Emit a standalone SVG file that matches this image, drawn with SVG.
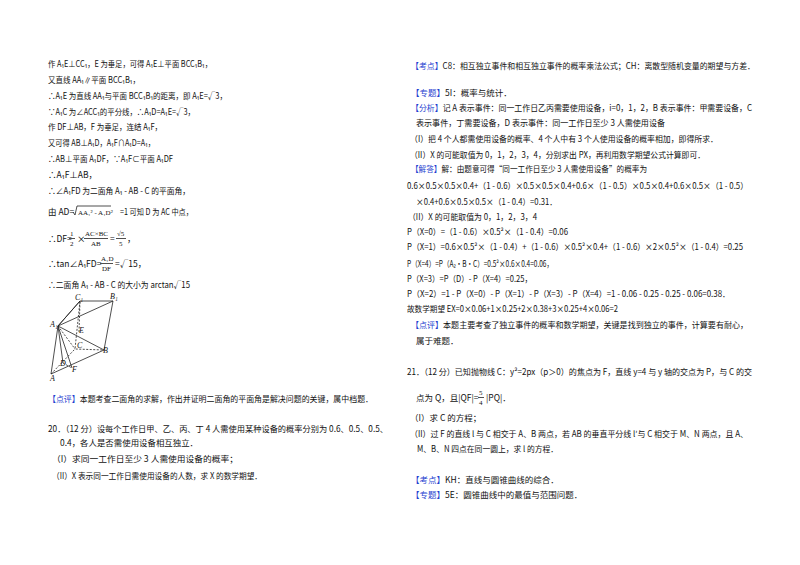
<svg xmlns="http://www.w3.org/2000/svg" width="800" height="565" viewBox="0 0 800 565">
<style>
text{font-family:"Noto Sans CJK SC","Noto Sans",sans-serif;font-size:8.5px;fill:#111}
.b{fill:#1f3fd0}
.fig{fill:none;stroke:#222;stroke-width:0.8}
.d{stroke-dasharray:2 1.5}
.fl{font-family:"Liberation Serif",serif;font-style:italic;font-size:8px}
.m{font-family:"Liberation Serif",serif;font-size:7px}
</style>
<rect width="800" height="565" fill="#fff"/>
<g id="left">
<text x="48" y="67" textLength="164" lengthAdjust="spacingAndGlyphs">作 A₁E⊥CC₁，E 为垂足，可得 A₁E⊥平面 BCC₁B₁，</text>
<text x="48" y="83" textLength="92" lengthAdjust="spacingAndGlyphs">又直线 AA₁∥平面 BCC₁B₁，</text>
<text x="48" y="99" textLength="179" lengthAdjust="spacingAndGlyphs">∴A₁E 为直线 AA₁与平面 BCC₁B₁的距离，即 A₁E=√3，</text>
<text x="48" y="115" textLength="147" lengthAdjust="spacingAndGlyphs">∵A₁C 为∠ACC₁的平分线，∴A₁D=A₁E=√3，</text>
<text x="48" y="130" textLength="114" lengthAdjust="spacingAndGlyphs">作 DF⊥AB，F 为垂足，连结 A₁F，</text>
<text x="48" y="146" textLength="107" lengthAdjust="spacingAndGlyphs">又可得 AB⊥A₁D，A₁F∩A₁D=A₁，</text>
<text x="48" y="162" textLength="125" lengthAdjust="spacingAndGlyphs">∴AB⊥平面 A₁DF，∵A₁F⊂平面 A₁DF</text>
<text x="48" y="178">∴A₁F⊥AB，</text>
<text x="48" y="194" textLength="142" lengthAdjust="spacingAndGlyphs">∴∠A₁FD 为二面角 A₁ - AB - C 的平面角，</text>
<text x="48" y="215">由 AD=</text>
<path d="M73 212 l2 3 l2 -9 h34" class="fig"/>
<text x="78" y="215" class="m">AA₁² - A₁D²</text>
<text x="120" y="215" textLength="73" lengthAdjust="spacingAndGlyphs">=1 可知 D 为 AC 中点，</text>
<text x="48" y="242">∴DF=</text>
<text x="70" y="236" class="m">1</text><line x1="69" y1="238.5" x2="75" y2="238.5" class="fig"/><text x="70" y="246" class="m">2</text>
<text x="77" y="242">×</text>
<text x="85" y="236" class="m">AC×BC</text><line x1="84" y1="238.5" x2="108" y2="238.5" class="fig"/><text x="91" y="246" class="m">AB</text>
<text x="110" y="242">=</text>
<text x="117" y="236" class="m">√5</text><line x1="116" y1="238.5" x2="126" y2="238.5" class="fig"/><text x="119" y="246" class="m">5</text>
<text x="127" y="242">，</text>
<text x="48" y="267">∴tan∠A₁FD=</text>
<text x="101" y="261" class="m">A₁D</text><line x1="100" y1="263.5" x2="113" y2="263.5" class="fig"/><text x="102" y="271" class="m">DF</text>
<text x="115" y="267">=√15，</text>
<text x="48" y="288" textLength="142" lengthAdjust="spacingAndGlyphs">∴二面角 A₁ - AB - C 的大小为 arctan√15</text>
<text x="48" y="402" textLength="325" lengthAdjust="spacingAndGlyphs"><tspan class="b">【点评】</tspan>本题考查二面角的求解，作出并证明二面角的平面角是解决问题的关键，属中档题．</text>
<text x="48" y="432" textLength="340" lengthAdjust="spacingAndGlyphs">20．（12 分）设每个工作日甲、乙、丙、丁 4 人需使用某种设备的概率分别为 0.6、0.5、0.5、</text>
<text x="60" y="446" textLength="138" lengthAdjust="spacingAndGlyphs">0.4，各人是否需使用设备相互独立．</text>
<text x="52" y="462" textLength="186" lengthAdjust="spacingAndGlyphs">（I）求同一工作日至少 3 人需使用设备的概率；</text>
<text x="52" y="479" textLength="210" lengthAdjust="spacingAndGlyphs">（II）X 表示同一工作日需使用设备的人数，求 X 的数学期望．</text>
</g>
<g id="figure">
<path class="fig" d="M80 301 L113 301 L104 350 L51 374 L58 326 Z M58 326 L80 301 M58 326 L113 301 M58 326 L104 350 M58 326 L72 368 M58 326 L63 363"/>
<path class="fig d" d="M80 301 L75 349 L104 350 M51 374 L75 349 M63 363 L72 368 M58 326 L75 349 M79 332 L80 301"/>
<text class="fl" x="75" y="300">C₁</text><text class="fl" x="110" y="299">B₁</text>
<text class="fl" x="50" y="327">A₁</text><text class="fl" x="79" y="333">E</text>
<text class="fl" x="77" y="348">C</text><text class="fl" x="103" y="353">B</text>
<text class="fl" x="60" y="366">D</text><text class="fl" x="72" y="372">F</text>
<text class="fl" x="50" y="381">A</text>
</g>
<g id="right">
<text x="411" y="69" textLength="344" lengthAdjust="spacingAndGlyphs"><tspan class="b">【考点】</tspan>C8：相互独立事件和相互独立事件的概率乘法公式；CH：离散型随机变量的期望与方差．</text>
<text x="411" y="96"><tspan class="b">【专题】</tspan>5I：概率与统计．</text>
<text x="411" y="111" textLength="341" lengthAdjust="spacingAndGlyphs"><tspan class="b">【分析】</tspan>记 A 表示事件：同一工作日乙丙需要使用设备，i=0，1，2，B 表示事件：甲需要设备，C</text>
<text x="416" y="126" textLength="249" lengthAdjust="spacingAndGlyphs">表示事件，丁需要设备，D 表示事件：同一工作日至少 3 人需使用设备</text>
<text x="410" y="142" textLength="308" lengthAdjust="spacingAndGlyphs">（I）把 4 个人都需使用设备的概率、4 个人中有 3 个人使用设备的概率相加，即得所求．</text>
<text x="410" y="158" textLength="295" lengthAdjust="spacingAndGlyphs">（II）X 的可能取值为 0，1，2，3，4，分别求出 PX，再利用数学期望公式计算即可．</text>
<text x="411" y="172" textLength="236" lengthAdjust="spacingAndGlyphs"><tspan class="b">【解答】</tspan>解：由题意可得“同一工作日至少 3 人需使用设备”的概率为</text>
<text x="407" y="189" textLength="341" lengthAdjust="spacingAndGlyphs">0.6×0.5×0.5×0.4+（1 - 0.6）×0.5×0.5×0.4+0.6×（1 - 0.5）×0.5×0.4+0.6×0.5×（1 - 0.5）</text>
<text x="416" y="205" textLength="141" lengthAdjust="spacingAndGlyphs">×0.4+0.6×0.5×0.5×（1 - 0.4）=0.31．</text>
<text x="408" y="220" textLength="129" lengthAdjust="spacingAndGlyphs">（II）X 的可能取值为 0，1，2，3，4</text>
<text x="407" y="235" textLength="161" lengthAdjust="spacingAndGlyphs">P（X=0）=（1 - 0.6）×0.5²×（1 - 0.4）=0.06</text>
<text x="407" y="250" textLength="336" lengthAdjust="spacingAndGlyphs">P（X=1）=0.6×0.5²×（1 - 0.4）+（1 - 0.6）×0.5²×0.4+（1 - 0.6）×2×0.5²×（1 - 0.4）=0.25</text>
<text x="407" y="267" textLength="146" lengthAdjust="spacingAndGlyphs">P（X=4）=P（A₂•B•C）=0.5²×0.6×0.4=0.06，</text>
<text x="407" y="282" textLength="125" lengthAdjust="spacingAndGlyphs">P（X=3）=P（D）- P（X=4）=0.25，</text>
<text x="407" y="297" textLength="323" lengthAdjust="spacingAndGlyphs">P（X=2）=1 - P（X=0）- P（X=1）- P（X=3）- P（X=4）=1 - 0.06 - 0.25 - 0.25 - 0.06=0.38．</text>
<text x="407" y="312" textLength="211" lengthAdjust="spacingAndGlyphs">故数学期望 EX=0×0.06+1×0.25+2×0.38+3×0.25+4×0.06=2</text>
<text x="411" y="328" textLength="337" lengthAdjust="spacingAndGlyphs"><tspan class="b">【点评】</tspan>本题主要考查了独立事件的概率和数学期望，关键是找到独立的事件，计算要有耐心，</text>
<text x="416" y="344">属于难题．</text>
<text x="407" y="375" textLength="345" lengthAdjust="spacingAndGlyphs">21．（12 分）已知抛物线 C：y²=2px（p＞0）的焦点为 F，直线 y=4 与 y 轴的交点为 P，与 C 的交</text>
<text x="416" y="401">点为 Q，且|QF|=</text>
<text x="479" y="395" class="m">5</text><line x1="478" y1="397.5" x2="484" y2="397.5" class="fig"/><text x="479" y="405" class="m">4</text>
<text x="486" y="401">|PQ|．</text>
<text x="410" y="421">（I）求 C 的方程；</text>
<text x="410" y="437" textLength="338" lengthAdjust="spacingAndGlyphs">（II）过 F 的直线 l 与 C 相交于 A、B 两点，若 AB 的垂直平分线 l′与 C 相交于 M、N 两点，且 A、</text>
<text x="417" y="452" textLength="141" lengthAdjust="spacingAndGlyphs">M、B、N 四点在同一圆上，求 l 的方程．</text>
<text x="411" y="483"><tspan class="b">【考点】</tspan>KH：直线与圆锥曲线的综合．</text>
<text x="411" y="498"><tspan class="b">【专题】</tspan>5E：圆锥曲线中的最值与范围问题．</text>
</g>
</svg>
